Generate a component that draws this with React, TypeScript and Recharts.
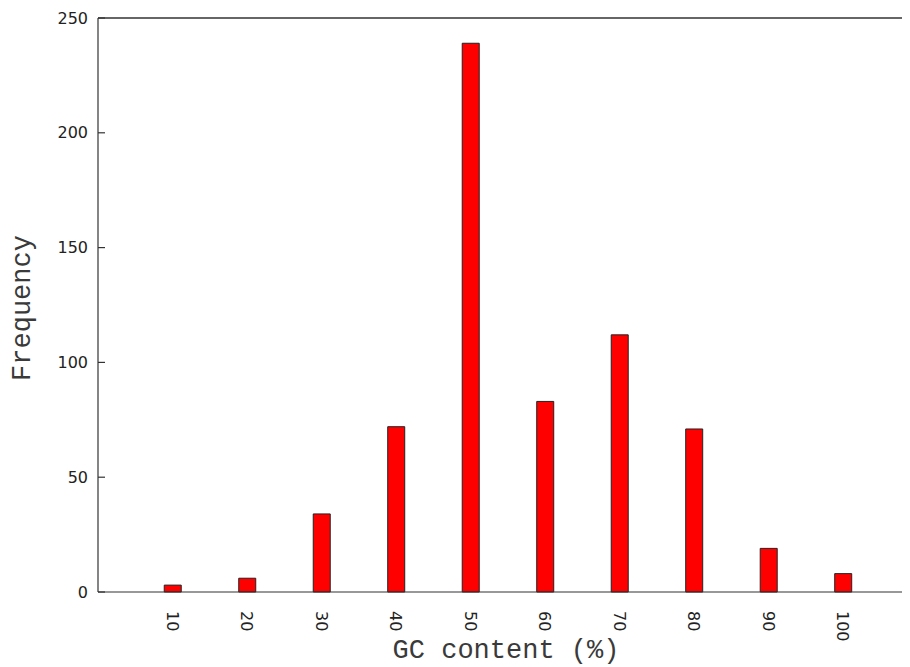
import React from "react";
import { BarChart, Bar, XAxis, YAxis, ReferenceLine } from "recharts";

const gcContent = [10, 20, 30, 40, 50, 60, 70, 80, 90, 100];
const frequency = [3, 6, 34, 72, 239, 83, 112, 71, 19, 8];
const yTicks = [0, 50, 100, 150, 200, 250];

const data = gcContent.map((gc, i) => ({ gc, freq: frequency[i] }));

const AXIS_COLOR = "#333";
const TICK_FONT = "'DejaVu Sans', sans-serif";
const LABEL_FONT = "'Liberation Mono', 'Courier New', monospace";

const XTick = (props: any) => {
  const { x, y, payload } = props;
  const ty = y + 11;
  return (
    <text
      x={x}
      y={ty}
      transform={`rotate(90, ${x}, ${ty})`}
      textAnchor="start"
      dominantBaseline="central"
      fontFamily={TICK_FONT}
      fontSize={16}
      fill="#222"
    >
      {payload.value}
    </text>
  );
};

const YTick = (props: any) => {
  const { y, payload } = props;
  const ax = 90;
  return (
    <g>
      <line x1={ax} x2={ax + 7} y1={y} y2={y} stroke={AXIS_COLOR} strokeWidth={1.2} />
      <text
        x={ax - 10}
        y={y}
        textAnchor="end"
        dominantBaseline="central"
        fontFamily={TICK_FONT}
        fontSize={16}
        fill="#222"
      >
        {payload.value}
      </text>
    </g>
  );
};

const YLabel = (props: any) => {
  const { viewBox } = props;
  const cy = viewBox.y + viewBox.height / 2 + 3;
  const x = 22;
  return (
    <text
      x={x}
      y={cy}
      transform={`rotate(-90, ${x}, ${cy})`}
      textAnchor="middle"
      fontFamily={LABEL_FONT}
      fontSize={27}
      fill="#3a3a3a"
    >
      Frequency
    </text>
  );
};

const XLabel = (props: any) => {
  const { viewBox } = props;
  const cx = viewBox.x + viewBox.width / 2 + 2;
  return (
    <text
      x={cx}
      y={650}
      textAnchor="middle"
      fontFamily={LABEL_FONT}
      fontSize={27}
      fill="#3a3a3a"
    >
      GC content (%)
    </text>
  );
};

export default function App() {
  return (
    <BarChart
      width={902}
      height={659}
      data={data}
      margin={{ top: 10, right: 0, bottom: 0, left: 0 }}
    >
      <XAxis
        dataKey="gc"
        type="number"
        domain={[0, 109]}
        ticks={gcContent}
        allowDataOverflow
        height={75}
        tickLine={false}
        axisLine={{ stroke: AXIS_COLOR, strokeWidth: 1.2 }}
        tick={<XTick />}
        interval={0}
        label={<XLabel />}
      />
      <YAxis
        type="number"
        domain={[0, 250]}
        ticks={yTicks}
        width={90}
        tickLine={false}
        axisLine={{ stroke: AXIS_COLOR, strokeWidth: 1.2 }}
        tick={<YTick />}
        interval={0}
        label={<YLabel />}
      />
      <ReferenceLine y={250} stroke={AXIS_COLOR} strokeWidth={1.5} />
      <Bar
        dataKey="freq"
        fill="#ff0000"
        stroke="#222"
        strokeWidth={1}
        barSize={17}
        isAnimationActive={false}
      />
    </BarChart>
  );
}
